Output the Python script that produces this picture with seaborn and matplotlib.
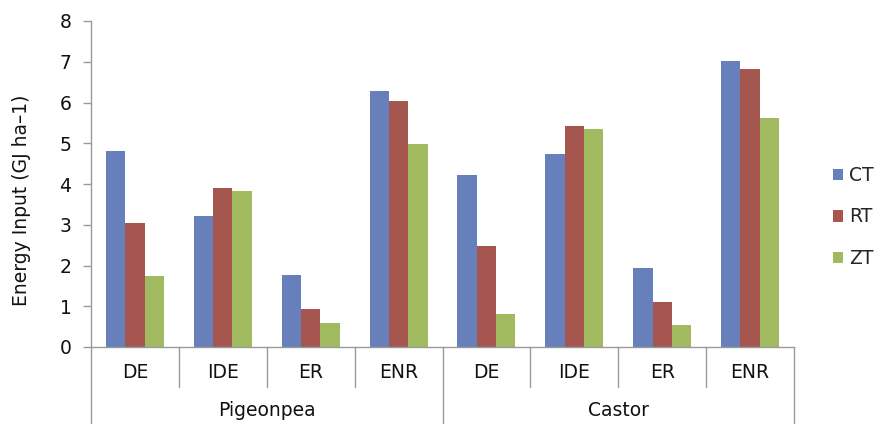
import matplotlib
matplotlib.use("Agg")
import matplotlib.pyplot as plt
import matplotlib.transforms as mtransforms
from matplotlib.lines import Line2D
from matplotlib.patches import Patch
import seaborn as sns
import pandas as pd

# Energy components per crop and tillage practice
crops = ["Pigeonpea", "Castor"]
components = ["DE", "IDE", "ER", "ENR"]
treatments = ["CT", "RT", "ZT"]
ct_values = [4.81, 3.22, 1.76, 6.27, 4.22, 4.74, 1.95, 7.01]
rt_values = [3.05, 3.91, 0.94, 6.03, 2.49, 5.43, 1.11, 6.81]
zt_values = [1.74, 3.84, 0.60, 4.98, 0.81, 5.35, 0.53, 5.63]
y_ticks = [0, 1, 2, 3, 4, 5, 6, 7, 8]
y_label = "Energy Input (GJ ha\u20131)"

colors = ["#6780BC", "#A5564F", "#A2BA5F"]
line_color = "#9A9A9A"
font_size = 13.5

keys = [f"{c}|{comp}" for c in crops for comp in components]
rows = []
for t, vals in zip(treatments, [ct_values, rt_values, zt_values]):
    for k, v in zip(keys, vals):
        rows.append({"key": k, "treatment": t, "value": v})
df = pd.DataFrame(rows)

sns.set_style("white")
plt.rcParams["font.family"] = ["DejaVu Sans"]

fig = plt.figure(figsize=(8.76, 4.24), dpi=100)
ax = fig.add_axes([91 / 876, 1 - 347 / 424, (794 - 91) / 876, (347 - 21) / 424])

sns.barplot(data=df, x="key", y="value", hue="treatment", order=keys,
            hue_order=treatments, palette=colors, width=0.66, saturation=1,
            edgecolor="none", linewidth=0, ax=ax, legend=False)

ax.set_ylim(0, 8)
ax.set_xlim(-0.5, len(keys) - 0.5)
ax.set_yticks(y_ticks)
ax.set_yticklabels([str(v) for v in y_ticks], fontsize=font_size, color="#111111")
ax.tick_params(axis="y", left=True, length=6, width=1, color=line_color, pad=8)
ax.set_xticks([])
ax.set_xlabel("")
ax.set_ylabel(y_label, fontsize=font_size, color="#111111")
ax.yaxis.set_label_coords(-0.086, 0.45)

for side in ["top", "right"]:
    ax.spines[side].set_visible(False)
for side in ["left", "bottom"]:
    ax.spines[side].set_color(line_color)
    ax.spines[side].set_linewidth(1)

trans = mtransforms.blended_transform_factory(ax.transData, fig.transFigure)
y_axis = 1 - 347 / 424
y_short = 1 - 387 / 424

# Category labels and separators under the axis
for i, k in enumerate(keys):
    ax.text(i, 1 - 372 / 424, k.split("|")[1], transform=trans,
            ha="center", va="center", fontsize=font_size, color="#111111")
for b in range(len(keys) + 1):
    x = b - 0.5
    bottom = 0 if b % len(components) == 0 else y_short
    ax.add_line(Line2D([x, x], [y_axis, bottom], transform=trans,
                       color=line_color, lw=1, clip_on=False))

# Crop group labels
for g, crop in enumerate(crops):
    center = g * len(components) + (len(components) - 1) / 2
    ax.text(center, 1 - 411 / 424, crop, transform=trans,
            ha="center", va="center", fontsize=font_size, color="#111111")

handles = [Patch(facecolor=c, edgecolor="none", label=t)
           for c, t in zip(colors, treatments)]
fig.legend(handles=handles, loc="center left",
           bbox_to_anchor=(833 / 876, 1 - 217 / 424), frameon=False,
           fontsize=13.5, handlelength=0.55, handleheight=0.55,
           handletextpad=0.3, labelspacing=1.2, borderpad=0,
           borderaxespad=0)

fig.savefig("out.png", dpi=100)
